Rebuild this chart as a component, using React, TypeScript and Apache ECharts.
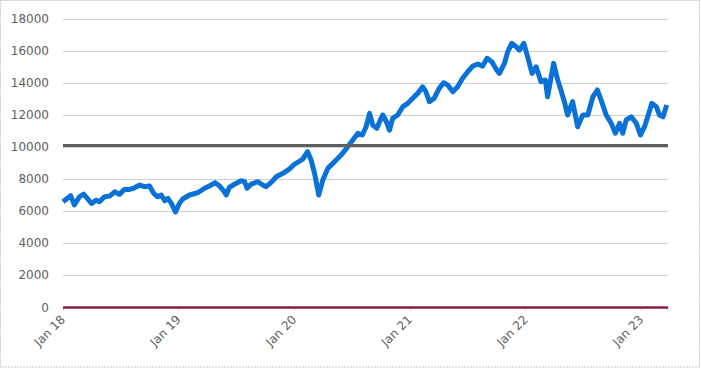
import React, { useEffect, useRef } from "react";
import * as echarts from "echarts";

const dates: string[] = [
  "2018-01-01","2018-01-25","2018-02-06","2018-02-22","2018-03-07","2018-04-01","2018-04-16","2018-04-26",
  "2018-05-12","2018-05-28","2018-06-13","2018-06-28","2018-07-14","2018-07-30","2018-08-15","2018-08-31",
  "2018-09-15","2018-10-01","2018-10-14","2018-10-27","2018-11-07","2018-11-18","2018-11-28","2018-12-09",
  "2018-12-22","2019-01-04","2019-01-14","2019-02-04","2019-03-02","2019-03-24","2019-04-08","2019-04-26",
  "2019-05-10","2019-05-21","2019-05-31","2019-06-10","2019-06-26","2019-07-17","2019-07-28","2019-08-05",
  "2019-08-18","2019-09-08","2019-09-23","2019-10-04","2019-10-20","2019-11-05","2019-11-26","2019-12-17",
  "2020-01-02","2020-01-15","2020-01-27","2020-02-12","2020-02-23","2020-03-05","2020-03-15","2020-03-18",
  "2020-03-31","2020-04-16","2020-05-07","2020-05-28","2020-06-18","2020-07-04","2020-07-20","2020-08-03",
  "2020-08-15","2020-08-26","2020-09-05","2020-09-18","2020-09-29","2020-10-07","2020-10-18","2020-10-28",
  "2020-11-07","2020-11-23","2020-12-09","2020-12-25","2021-01-04","2021-01-25","2021-02-10","2021-02-20",
  "2021-03-03","2021-03-18","2021-04-03","2021-04-17","2021-04-30","2021-05-16","2021-05-31","2021-06-16",
  "2021-07-02","2021-07-18","2021-08-03","2021-08-18","2021-09-01","2021-09-16","2021-09-30","2021-10-10",
  "2021-10-26","2021-11-05","2021-11-18","2021-12-02","2021-12-12","2021-12-26","2022-01-07","2022-01-21",
  "2022-02-03","2022-02-18","2022-03-04","2022-03-11","2022-03-30","2022-04-12","2022-04-22","2022-05-03",
  "2022-05-13","2022-05-29","2022-06-14","2022-06-30","2022-07-16","2022-08-01","2022-08-15","2022-08-27",
  "2022-09-12","2022-09-28","2022-10-11","2022-10-24","2022-11-03","2022-11-14","2022-11-30","2022-12-16",
  "2022-12-29","2023-01-11","2023-01-21","2023-02-03","2023-02-17","2023-02-27","2023-03-10","2023-03-22"
];

const values: number[] = [
  6600, 6975, 6400, 6910, 7080, 6500, 6700, 6600,
  6910, 6950, 7220, 7060, 7370, 7370, 7470, 7640,
  7540, 7580, 7120, 6910, 7020, 6660, 6810, 6500,
  5960, 6520, 6770, 7020, 7160, 7440, 7580, 7790,
  7580, 7330, 7020, 7500, 7690, 7910, 7850, 7440,
  7700, 7850, 7640, 7540, 7810, 8160, 8370, 8650,
  8950, 9100, 9250, 9720, 9200, 8370, 7330, 7020,
  7950, 8680, 9100, 9510, 10030, 10450, 10870, 10760,
  11280, 12110, 11380, 11180, 11700, 12010, 11590, 11070,
  11800, 12010, 12530, 12740, 12940, 13360, 13770, 13460,
  12840, 13050, 13670, 14020, 13880, 13460, 13770, 14300,
  14710, 15060, 15190, 15060, 15550, 15330, 14860, 14610,
  15230, 15950, 16480, 16270, 16060, 16480, 15650, 14610,
  15020, 14090, 14190, 13150, 15230, 14190, 13570, 12840,
  12010, 12840, 11280, 12010, 12010, 13150, 13570, 12940,
  12010, 11490, 10870, 11490, 10870, 11700, 11900, 11490,
  10760, 11280, 11900, 12740, 12530, 12010, 11900, 12630
];

const thresholdValue = 10100;
const baseValue = 0;
const yTicks = { min: 0, max: 18000, interval: 2000 };
const xStartYear = 2018;
const xEndYear = 2023.23;

function toYear(d: string): number {
  const [y, m, day] = d.split("-").map(Number);
  const start = Date.UTC(y, 0, 1);
  const end = Date.UTC(y + 1, 0, 1);
  const t = Date.UTC(y, m - 1, day);
  return y + (t - start) / (end - start);
}

export default function App() {
  const ref = useRef<HTMLDivElement>(null);
  useEffect(() => {
    if (!ref.current) return;
    const chart = echarts.init(ref.current, undefined, { renderer: "svg" });
    const seriesData = dates.map((d, i) => [toYear(d), values[i]]);
    const font = "DejaVu Sans";
    chart.setOption({
      animation: false,
      backgroundColor: "#ffffff",
      grid: { left: 63, right: 33, top: 19, bottom: 61.5, containLabel: false },
      graphic: [
        {
          type: "rect",
          shape: { x: 0.5, y: 0.5, width: 699, height: 366.5 },
          style: { fill: "none", stroke: "#c8c8c8", lineWidth: 1, lineDash: [2, 1] },
          silent: true,
        },
      ],
      xAxis: {
        type: "value",
        min: xStartYear,
        max: xEndYear,
        interval: 1,
        axisLine: { show: false },
        axisTick: { show: true, length: 4, lineStyle: { color: "#b0b0b0", type: "dotted" } },
        splitLine: { show: false },
        axisLabel: {
          rotate: 45,
          margin: 10,
          color: "#606060",
          fontFamily: font,
          fontSize: 12,
          formatter: (v: number) =>
            Math.abs(v - Math.round(v)) < 1e-6 ? "Jan " + String(Math.round(v)).slice(2) : "",
        },
      },
      yAxis: {
        type: "value",
        min: yTicks.min,
        max: yTicks.max,
        interval: yTicks.interval,
        axisLine: { show: false },
        axisTick: { show: false },
        splitLine: { show: true, lineStyle: { color: "#cfcfcf", type: "solid", width: 1 } },
        axisLabel: {
          color: "#606060",
          fontFamily: font,
          fontSize: 12,
          margin: 14,
          formatter: (v: number) => String(v),
        },
      },
      series: [
        {
          type: "line",
          data: seriesData,
          showSymbol: false,
          symbol: "none",
          lineStyle: { color: "#0a72d6", width: 5, join: "round" },
          z: 2,
          markLine: {
            silent: true,
            symbol: ["none", "none"],
            label: { show: false },
            animation: false,
            data: [
              { yAxis: thresholdValue, lineStyle: { color: "#5e5e5e", width: 3, type: "solid" } },
              { yAxis: baseValue, lineStyle: { color: "#8a1c40", width: 2.5, type: "solid" } },
            ],
          },
        },
      ],
    });
    return () => chart.dispose();
  }, []);
  return (
    <div
      ref={ref}
      style={{ position: "fixed", left: 0, top: 0, width: 701, height: 369 }}
    />
  );
}
